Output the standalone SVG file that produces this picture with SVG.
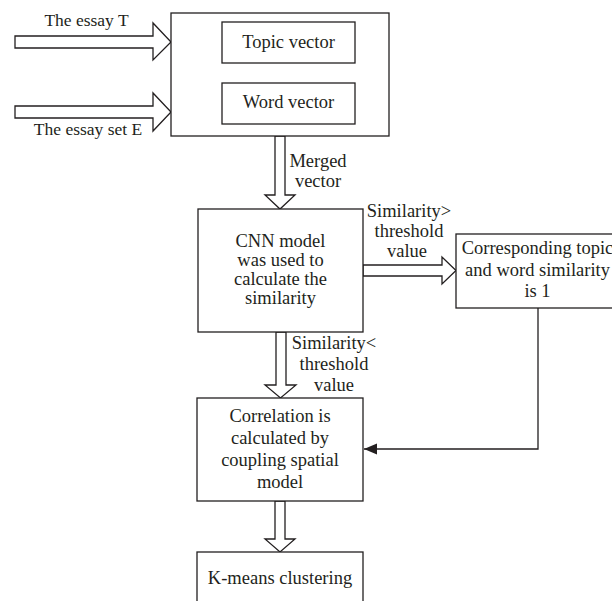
<svg xmlns="http://www.w3.org/2000/svg" width="612" height="601" viewBox="0 0 612 601">
<style>
.box{fill:#fff;stroke:#231f20;stroke-width:1.3}
.blk{fill:#fff;stroke:#231f20;stroke-width:1.3;stroke-linejoin:miter}
.ln{fill:none;stroke:#231f20;stroke-width:1.3}
text{font-family:"Liberation Serif","Times New Roman",serif;font-size:18.5px;fill:#231f20}
.lab{font-size:17.5px}
.c{text-anchor:middle}
</style>
<defs>
<marker id="ah" markerWidth="14" markerHeight="12" refX="13" refY="6" orient="auto" markerUnits="userSpaceOnUse">
<path d="M0,0.5 L13,6 L0,11.5 Z" fill="#231f20"/>
</marker>
</defs>
<rect width="612" height="601" fill="#fff"/>

<g id="connectors">
<polygon class="blk" points="15,36 153,36 153,23 171,42 153,60 153,48 15,48"/>
<polygon class="blk" points="15,106 153,106 153,93 171,112 153,131 153,118 15,118"/>
<polygon class="blk" points="275,136 275,195 265,195 280,209 295,195 285,195 285,136"/>
<polygon class="blk" points="276,332 276,385 265,385 280.5,398 296,385 286,385 286,332"/>
<polygon class="blk" points="275,501 275,539 265,539 280,552 295,539 285,539 285,501"/>
<polygon class="blk" points="363,265 442,265 442,257 456,270.5 442,284 442,276 363,276"/>
<polyline class="ln" points="538,308 538,449 364,449" marker-end="url(#ah)"/>
<text class="c lab" x="86.5" y="26">The essay T</text>
<text class="c lab" x="88" y="135">The essay set E</text>
<text class="c" x="318" y="167">Merged</text>
<text class="c" x="318" y="187">vector</text>
<text class="c" x="409" y="217">Similarity&gt;</text>
<text class="c" x="409" y="237">threshold</text>
<text class="c" x="407" y="257">value</text>
<text class="c" x="334" y="349">Similarity&lt;</text>
<text class="c" x="334" y="370">threshold</text>
<text class="c" x="334" y="391">value</text>
</g>

<g id="input-box">
<rect class="box" x="171" y="13" width="218" height="123"/>
</g>
<g id="topic-vector">
<rect class="box" x="222" y="22" width="133" height="41"/>
<text class="c" x="288.5" y="48">Topic vector</text>
</g>
<g id="word-vector">
<rect class="box" x="222" y="83" width="133" height="41"/>
<text class="c" x="288.5" y="108">Word vector</text>
</g>
<g id="cnn-model">
<rect class="box" x="198" y="209" width="165" height="123"/>
<text class="c" x="280.5" y="247">CNN model</text>
<text class="c" x="280.5" y="266">was used to</text>
<text class="c" x="280.5" y="285">calculate the</text>
<text class="c" x="280.5" y="304">similarity</text>
</g>
<g id="corresponding">
<rect class="box" x="456" y="234" width="163" height="74"/>
<text class="c" x="537.5" y="254">Corresponding topic</text>
<text class="c" x="537.5" y="275.5">and word similarity</text>
<text class="c" x="537.5" y="297">is 1</text>
</g>
<g id="correlation">
<rect class="box" x="197" y="398" width="166" height="103"/>
<text class="c" x="280" y="422">Correlation is</text>
<text class="c" x="280" y="444">calculated by</text>
<text class="c" x="280" y="466">coupling spatial</text>
<text class="c" x="280" y="488">model</text>
</g>
<g id="kmeans">
<rect class="box" x="197" y="552" width="166" height="60"/>
<text class="c" x="280" y="584">K-means clustering</text>
</g>
</svg>
